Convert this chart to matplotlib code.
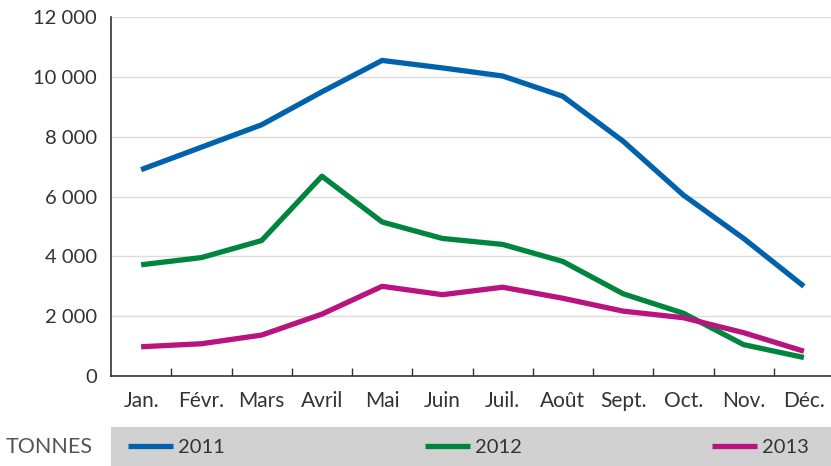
import matplotlib
matplotlib.use("Agg")
import matplotlib.pyplot as plt
from matplotlib.patches import Rectangle
from matplotlib.lines import Line2D

# data
months = ["Jan.", "Févr.", "Mars", "Avril", "Mai", "Juin",
          "Juil.", "Août", "Sept.", "Oct.", "Nov.", "Déc."]
years = ["2011", "2012", "2013"]
tonnes_2011 = [6900, 7650, 8400, 9500, 10550, 10300, 10030, 9350, 7850, 6050, 4600, 3000]
tonnes_2012 = [3720, 3960, 4530, 6680, 5150, 4600, 4400, 3830, 2750, 2100, 1050, 620]
tonnes_2013 = [980, 1080, 1370, 2070, 3000, 2720, 2970, 2600, 2170, 1950, 1450, 830]
colors = ["#0062ad", "#00853e", "#b8137f"]

plt.rcParams["font.family"] = ["Lato", "DejaVu Sans"]
text_color = "#333333"

fig = plt.figure(figsize=(8.31, 4.66), dpi=100)
ax = fig.add_axes([0.1336, 0.193, 0.8664, 0.7704])

x = list(range(len(months)))
for vals, c in zip([tonnes_2011, tonnes_2012, tonnes_2013], colors):
    ax.plot(x, vals, color=c, lw=3.8, solid_capstyle="butt", zorder=3)

ax.set_xlim(-0.5, 11.45)
ax.set_ylim(0, 12000)
ax.set_yticks(range(0, 12001, 2000))
ax.set_yticklabels([f"{v:,}".replace(",", " ") for v in range(0, 12001, 2000)])
ax.grid(axis="y", color="#dcdcdc", lw=1)
ax.set_axisbelow(True)

# category labels centred, tick marks between categories
ax.set_xticks(x)
ax.set_xticklabels(months)
ax.set_xticks([i + 0.5 for i in range(len(months) - 1)], minor=True)
ax.tick_params(axis="x", which="major", length=0, pad=11, labelsize=15, colors=text_color)
ax.tick_params(axis="x", which="minor", length=6, direction="in", color=text_color, width=1)
ax.tick_params(axis="y", length=0, pad=10, labelsize=14.5, colors=text_color)

for s in ["top", "right"]:
    ax.spines[s].set_visible(False)
for s in ["left", "bottom"]:
    ax.spines[s].set_color(text_color)
    ax.spines[s].set_linewidth(1.2)

# legend strip
fig.add_artist(Rectangle((0.1336, 0.0), 0.8664, 0.083, transform=fig.transFigure,
                         facecolor="#d1d1d1", edgecolor="none"))
fig.text(0.007, 0.04, "TONNES", fontsize=15.5, color="#555555", va="center", ha="left")
leg_x = [0.154, 0.511, 0.857]
for lx, yr, c in zip(leg_x, years, colors):
    fig.add_artist(Line2D([lx, lx + 0.054], [0.042, 0.042], transform=fig.transFigure,
                          color=c, lw=3.8, solid_capstyle="butt"))
    fig.text(lx + 0.06, 0.04, yr, fontsize=14.5, color=text_color, va="center", ha="left")

fig.savefig("out.png", dpi=100)
